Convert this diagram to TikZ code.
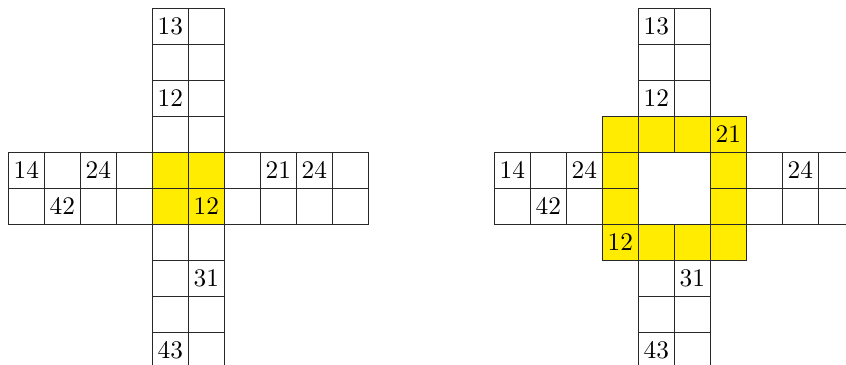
\documentclass[tikz,border=0pt]{standalone}
\definecolor{cellyellow}{RGB}{255,236,0}
\definecolor{gridline}{RGB}{40,40,40}
\tikzset{
  cell/.style={draw=gridline, line width=0.4pt, minimum size=0.5cm, inner sep=0pt, outer sep=0pt},
  hl/.style={cell, fill=cellyellow}
}
\begin{document}
\begin{tikzpicture}[x=0.5cm,y=0.5cm]
\clip (0,0) rectangle (23.5,-10.111);
% left figure
\foreach \r/\c/\t/\s in {
  0/4/13/cell, 0/5//cell, 1/4//cell, 1/5//cell, 2/4/12/cell, 2/5//cell, 3/4//cell, 3/5//cell,
  4/0/14/cell, 4/1//cell, 4/2/24/cell, 4/3//cell, 4/4//hl, 4/5//hl, 4/6//cell, 4/7/21/cell, 4/8/24/cell, 4/9//cell,
  5/0//cell, 5/1/42/cell, 5/2//cell, 5/3//cell, 5/4//hl, 5/5/12/hl, 5/6//cell, 5/7//cell, 5/8//cell, 5/9//cell,
  6/4//cell, 6/5//cell, 7/4//cell, 7/5/31/cell, 8/4//cell, 8/5//cell, 9/4/43/cell, 9/5//cell}
  \node[\s] (L-\r-\c) at (\c+0.73,-\r-0.73) {\t};
% right figure
\foreach \r/\c/\t/\s in {
  0/4/13/cell, 0/5//cell, 1/4//cell, 1/5//cell, 2/4/12/cell, 2/5//cell,
  3/3//hl, 3/4//hl, 3/5//hl, 3/6/21/hl,
  4/0/14/cell, 4/1//cell, 4/2/24/cell, 4/3//hl, 4/6//hl, 4/7//cell, 4/8/24/cell, 4/9//cell,
  5/0//cell, 5/1/42/cell, 5/2//cell, 5/3//hl, 5/6//hl, 5/7//cell, 5/8//cell, 5/9//cell,
  6/3/12/hl, 6/4//hl, 6/5//hl, 6/6//hl,
  7/4//cell, 7/5/31/cell, 8/4//cell, 8/5//cell, 9/4/43/cell, 9/5//cell}
  \node[\s] (R-\r-\c) at (\c+14.23,-\r-0.73) {\t};
\node[cell, minimum size=1cm] (R-center) at (18.73,-5.23) {};
\end{tikzpicture}
\end{document}
